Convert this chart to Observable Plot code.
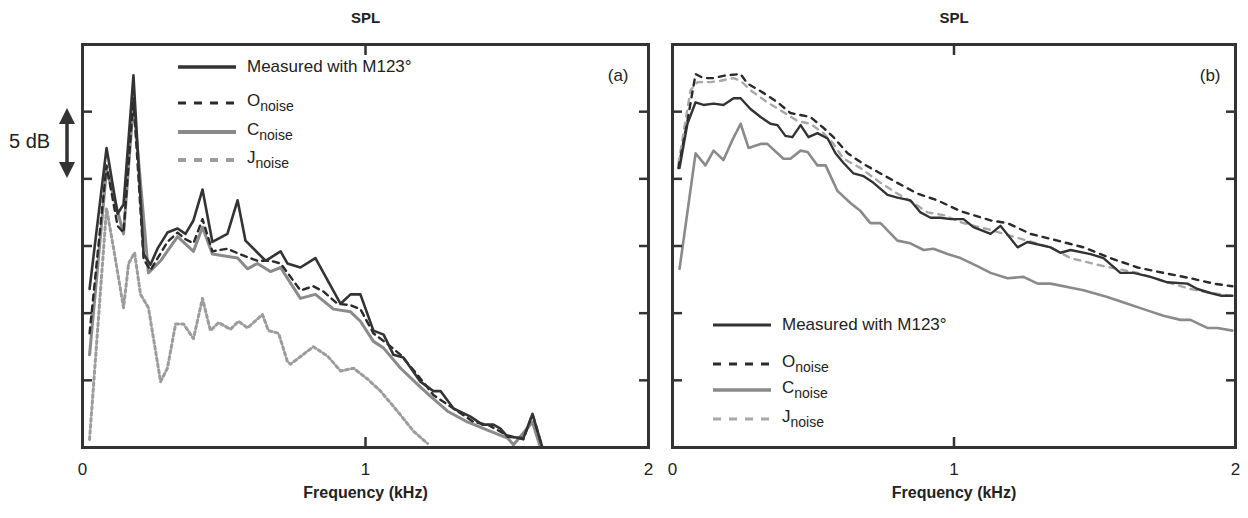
<!DOCTYPE html>
<html><head><meta charset="utf-8">
<script src="https://cdn.jsdelivr.net/npm/d3@7"></script>
<script src="https://cdn.jsdelivr.net/npm/@observablehq/plot@0.6"></script>
<style>
body{margin:0;background:#fff;}
#wrap{position:relative;width:1248px;height:518px;font-family:"Liberation Sans",Arial,sans-serif;color:#222;overflow:hidden}
.abs{position:absolute}
.leg{position:absolute;font-size:17px;line-height:1}
.row{position:absolute;white-space:nowrap;display:flex;align-items:center}
.row svg{margin-right:11px}
sub{font-size:14px;vertical-align:-5px;line-height:1}
</style>
</head><body>
<div id="wrap">
  <div id="pa" class="abs" style="left:0;top:0"></div>
  <div id="pb" class="abs" style="left:660px;top:0"></div>
</div>
<script>
// ---------- Data (frequency in kHz, relative SPL in dB; 5 dB per tick) ----------
const xTicks = [0, 1, 2];
const yTicks = [5, 10, 15, 20, 25];
const titles = ["SPL", "SPL"];
const xLabel = "Frequency (kHz)";
const panelLabels = ["(a)", "(b)"];
const seriesNames = ["Measured with M123°", "O", "C", "J"];

// Panel (a)
const aMeasF = [0.025,0.085,0.124,0.145,0.180,0.216,0.240,0.265,0.300,0.336,0.364,0.392,0.424,0.459,0.512,0.548,0.576,0.647,0.700,0.724,0.770,0.823,0.912,0.947,0.982,1.028,1.064,1.099,1.134,1.194,1.240,1.265,1.311,1.371,1.413,1.452,1.477,1.502,1.558,1.590,1.625];
const aMeasDb = [11.8,22.3,17.4,18.1,27.7,14.4,13.6,14.8,16.0,16.3,15.9,16.9,19.2,15.3,15.9,18.4,15.4,13.9,14.6,13.7,13.4,14.1,10.7,11.4,11.4,8.7,8.4,6.9,6.7,4.9,4.2,4.2,2.9,2.3,1.7,1.7,1.4,0.8,0.7,2.5,0];
const aOF = [0.025,0.085,0.124,0.145,0.180,0.216,0.240,0.300,0.336,0.364,0.392,0.424,0.459,0.512,0.555,0.618,0.664,0.700,0.770,0.816,0.852,0.901,0.947,0.982,1.028,1.078,1.124,1.184,1.240,1.311,1.382,1.431,1.502,1.558,1.590,1.625];
const aODb = [8.5,21.0,16.5,16.0,26.0,14.0,13.2,15.3,16.0,15.5,15.2,17.0,14.6,14.8,14.4,13.9,13.9,13.7,11.7,12.0,11.6,10.7,10.6,10.3,8.5,7.7,6.9,5.4,3.9,2.9,1.9,1.7,0.9,0.6,2.5,0];
const aCF = [0.025,0.085,0.145,0.180,0.233,0.276,0.336,0.392,0.424,0.459,0.548,0.583,0.618,0.664,0.700,0.724,0.770,0.823,0.887,0.947,0.982,1.028,1.064,1.124,1.184,1.230,1.290,1.360,1.431,1.502,1.523,1.590,1.618];
const aCDb = [6.9,20.7,15.9,25.7,13.0,13.9,15.7,14.6,16.4,14.4,14.1,13.3,13.7,13.1,13.4,12.6,11.1,11.4,10.3,10.1,9.4,7.9,7.4,5.9,4.7,3.8,2.7,1.9,1.3,0.7,0.2,1.9,0];
const aJF = [0.025,0.085,0.110,0.145,0.163,0.184,0.205,0.233,0.276,0.300,0.329,0.357,0.392,0.424,0.452,0.481,0.523,0.551,0.583,0.636,0.657,0.693,0.724,0.735,0.816,0.866,0.912,0.958,1.007,1.053,1.113,1.170,1.219];
const aJDb = [0.6,17.8,14.8,10.4,13.7,14.5,11.4,10.4,4.9,5.9,9.2,9.2,8.1,11.1,8.7,9.3,8.8,9.4,8.9,9.9,8.7,8.5,6.4,6.2,7.5,6.8,5.7,5.9,5.1,4.2,2.7,1.2,0.3];

// Panel (b)
const bMeasF = [0.025,0.053,0.082,0.110,0.146,0.181,0.217,0.242,0.277,0.313,0.348,0.373,0.401,0.426,0.455,0.483,0.515,0.551,0.579,0.607,0.643,0.679,0.714,0.764,0.799,0.845,0.881,0.917,0.952,0.988,1.034,1.069,1.130,1.165,1.226,1.261,1.343,1.378,1.414,1.485,1.531,1.591,1.638,1.698,1.758,1.829,1.865,1.911,1.947,1.989];
const bMeasDb = [20.8,24.1,25.7,25.5,25.6,25.5,26.0,26.0,25.2,24.6,24.1,24.0,23.2,23.1,24.0,23.1,23.4,23.0,21.9,21.2,20.4,20.2,19.7,18.8,18.6,18.4,17.5,17.1,17.1,17.0,17.0,16.4,15.9,16.5,14.9,15.3,14.9,14.5,14.7,14.4,14.1,13.0,13.0,12.7,12.3,12.2,11.8,11.5,11.3,11.3];
const bOF = [0.021,0.053,0.082,0.110,0.146,0.188,0.242,0.266,0.323,0.373,0.419,0.490,0.536,0.572,0.622,0.679,0.739,0.799,0.870,0.941,1.023,1.130,1.190,1.272,1.368,1.460,1.556,1.652,1.744,1.840,1.922,1.989];
const bODb = [20.8,24.3,27.8,27.5,27.5,27.7,27.8,27.1,26.4,25.7,24.9,24.6,23.8,23.1,21.9,21.1,20.4,19.7,18.9,18.4,17.6,16.9,16.7,15.9,15.4,14.9,14.1,13.4,13.0,12.6,12.2,12.0];
const bCF = [0.025,0.082,0.117,0.146,0.181,0.213,0.242,0.270,0.313,0.337,0.394,0.419,0.455,0.480,0.515,0.544,0.586,0.632,0.668,0.703,0.739,0.799,0.845,0.892,0.927,0.977,1.023,1.083,1.130,1.190,1.247,1.297,1.343,1.460,1.545,1.616,1.673,1.744,1.805,1.840,1.900,1.936,1.989];
const bCDb = [13.3,21.9,21.0,22.1,21.4,22.9,24.1,22.3,22.6,22.6,21.5,21.5,22.1,22.0,21.0,21.0,19.1,18.2,17.6,16.7,16.7,15.4,15.2,14.7,14.8,14.4,14.1,13.5,13.0,12.6,12.7,12.2,12.2,11.7,11.2,10.7,10.3,9.8,9.5,9.5,8.9,8.9,8.7];
const bJF = [0.021,0.064,0.089,0.135,0.171,0.217,0.242,0.277,0.337,0.384,0.444,0.490,0.536,0.572,0.607,0.668,0.739,0.799,0.856,0.906,0.963,1.034,1.130,1.226,1.343,1.414,1.531,1.652,1.758,1.840,1.911,1.982];
const bJDb = [21.1,26.6,27.2,27.2,27.3,27.5,27.3,26.6,25.7,25.1,24.3,24.1,23.4,22.6,21.5,20.8,19.7,18.9,18.2,17.5,17.3,16.7,16.2,15.6,14.9,14.1,13.5,13.0,12.3,11.8,11.5,11.3];

// ---------- Styles ----------
const styleA = {
  M: {stroke:"#333", strokeWidth:2.6},
  O: {stroke:"#2a2a2a", strokeWidth:2.4, strokeDasharray:"6,5"},
  C: {stroke:"#8a8a8a", strokeWidth:3},
  J: {stroke:"#9c9c9c", strokeWidth:3, strokeDasharray:"3,3"}
};
const styleB = {
  M: {stroke:"#333", strokeWidth:2.4},
  O: {stroke:"#2a2a2a", strokeWidth:2.4, strokeDasharray:"6,6"},
  C: {stroke:"#8a8a8a", strokeWidth:2.6},
  J: {stroke:"#a8a8a8", strokeWidth:2.4, strokeDasharray:"6,6"}
};

const rows = (fs, vs) => fs.map((f, i) => ({f, v: vs[i]}));

function panel(series, st, opts) {
  const marks = [
    Plot.line(rows(series.J[0], series.J[1]), {x:"f", y:"v", ...st.J, clip:true}),
    Plot.line(rows(series.C[0], series.C[1]), {x:"f", y:"v", ...st.C, clip:true}),
    Plot.line(rows(series.O[0], series.O[1]), {x:"f", y:"v", ...st.O, clip:true}),
    Plot.line(rows(series.M[0], series.M[1]), {x:"f", y:"v", ...st.M, clip:true}),
    Plot.frame({stroke:"#333", strokeWidth:3}),
    Plot.axisY({anchor:"left", ticks:yTicks, tickSize:-10, text:null, label:null, strokeWidth:2.5, stroke:"#333"}),
    Plot.axisY({anchor:"right", ticks:yTicks, tickSize:-10, text:null, label:null, strokeWidth:2.5, stroke:"#333"}),
    Plot.axisX({anchor:"bottom", ticks:[1], tickSize:-10, text:null, label:null, strokeWidth:2.5, stroke:"#333"}),
    Plot.axisX({anchor:"top", ticks:[1], tickSize:-10, text:null, label:null, strokeWidth:2.5, stroke:"#333"}),
    Plot.axisX({anchor:"bottom", ticks:xTicks, tickFormat:d => String(d), tickSize:0, tickPadding:15, label:null, fontSize:17, fill:"#222"}),
    Plot.text([opts.title], {frameAnchor:"top", dy:-32, fontSize:15, fontWeight:"bold", fill:"#222"}),
    Plot.text([xLabel], {frameAnchor:"bottom", dy:50, fontSize:16, fontWeight:"bold", fill:"#222"}),
    Plot.text([opts.label], {frameAnchor:"top-right", dx:opts.labelDx, dy:31, lineAnchor:"middle", fontSize:17, fill:"#222"})
  ];
  return Plot.plot({
    width: opts.width, height: 518,
    marginLeft: opts.ml, marginRight: opts.mr, marginTop: 44, marginBottom: 71,
    x: {domain:[0, 2], axis:null},
    y: {domain:[0, 30], axis:null},
    style: {fontFamily:'"Liberation Sans", Arial, sans-serif', fontSize:"16px", color:"#333", background:"transparent", overflow:"visible"},
    marks
  });
}

document.getElementById("pa").append(panel(
  {M:[aMeasF,aMeasDb], O:[aOF,aODb], C:[aCF,aCDb], J:[aJF,aJDb]}, styleA,
  {width:660, ml:82, mr:12, title:titles[0], label:panelLabels[0], labelDx:-20}));
document.getElementById("pb").append(panel(
  {M:[bMeasF,bMeasDb], O:[bOF,bODb], C:[bCF,bCDb], J:[bJF,bJDb]}, styleB,
  {width:588, ml:12, mr:13, title:titles[1], label:panelLabels[1], labelDx:-15}));

// ---------- Legends (HTML overlay) ----------
function sample(st) {
  const ns = "http://www.w3.org/2000/svg";
  const s = document.createElementNS(ns, "svg");
  s.setAttribute("width", 58); s.setAttribute("height", 8);
  const l = document.createElementNS(ns, "line");
  l.setAttribute("x1", 0); l.setAttribute("x2", 58); l.setAttribute("y1", 4); l.setAttribute("y2", 4);
  l.setAttribute("stroke", st.stroke); l.setAttribute("stroke-width", st.strokeWidth + 0.8);
  if (st.strokeDasharray) l.setAttribute("stroke-dasharray", "8,8");
  s.append(l);
  return s;
}
function legend(left, ys, st) {
  const wrap = document.getElementById("wrap");
  const keys = ["M","O","C","J"];
  keys.forEach((k, i) => {
    const r = document.createElement("div");
    r.className = "row leg";
    r.style.left = left + "px";
    r.style.top = (ys[i] - 8) + "px";
    r.append(sample(st[k]));
    const t = document.createElement("span");
    if (k === "M") t.textContent = seriesNames[0];
    else { t.textContent = seriesNames[i]; const sb = document.createElement("sub"); sb.textContent = "noise"; t.append(sb); }
    r.append(t);
    wrap.append(r);
  });
}
legend(178, [66, 100, 129, 157], styleA);
legend(713, [324, 361, 387, 416], styleB);

// ---------- 5 dB scale arrow ----------
(function(){
  const wrap = document.getElementById("wrap");
  const t = document.createElement("div");
  t.className = "leg"; t.textContent = "5 dB";
  t.style.left = "9px"; t.style.top = "131px"; t.style.fontSize = "20px";
  wrap.append(t);
  const ns = "http://www.w3.org/2000/svg";
  const s = document.createElementNS(ns, "svg");
  s.setAttribute("width", 24); s.setAttribute("height", 80);
  s.setAttribute("class", "abs"); s.style.left = "55px"; s.style.top = "104px";
  s.innerHTML = '<line x1="12" x2="12" y1="16" y2="58" stroke="#333" stroke-width="3.5"/>' +
    '<path d="M12,4 L4,20 L20,20 Z" fill="#333"/><path d="M12,74 L4,58 L20,58 Z" fill="#333"/>';
  wrap.append(s);
})();
</script>
</body></html>
